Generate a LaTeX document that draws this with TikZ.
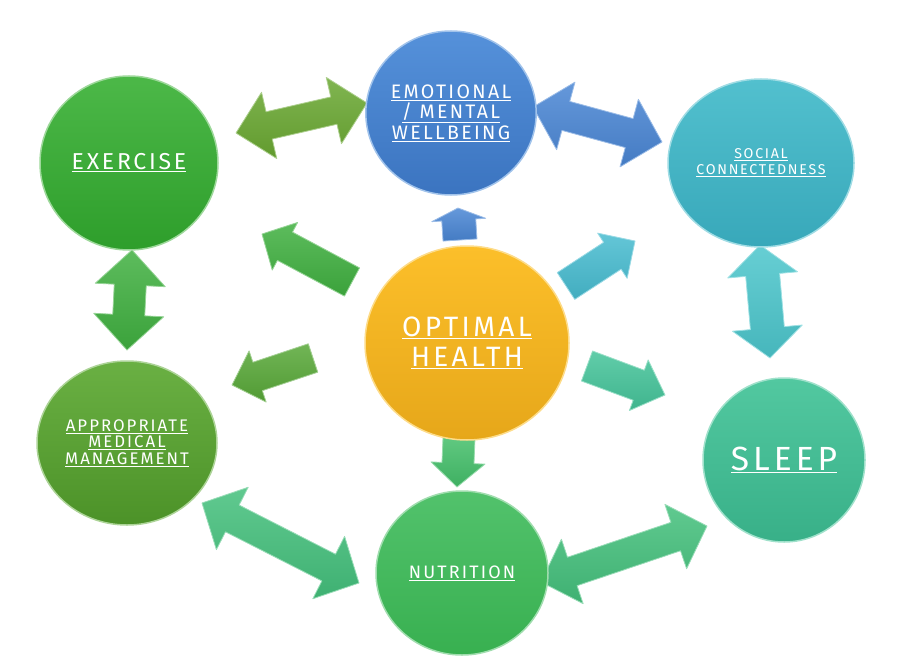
\documentclass[tikz,border=0pt]{standalone}
\usepackage{fontspec}
\setmainfont{Fira Sans}[LetterSpace=12]
\usetikzlibrary{calc,shapes.geometric}
\definecolor{exT}{HTML}{4CB848}\definecolor{exB}{HTML}{2E9E2B}
\definecolor{emT}{HTML}{5591DA}\definecolor{emB}{HTML}{3B74C0}
\definecolor{soT}{HTML}{52C0CE}\definecolor{soB}{HTML}{38A8BA}
\definecolor{opT}{HTML}{FCBF2A}\definecolor{opB}{HTML}{E6A71A}
\definecolor{apT}{HTML}{6AB043}\definecolor{apB}{HTML}{4C9228}
\definecolor{nuT}{HTML}{52C26C}\definecolor{nuB}{HTML}{38B050}
\definecolor{slT}{HTML}{52C8A0}\definecolor{slB}{HTML}{38B088}
\definecolor{aOlive}{HTML}{6AA832}
\definecolor{aBlue}{HTML}{4A86D4}
\definecolor{aGreen}{HTML}{40B040}
\definecolor{aCyan}{HTML}{4CC6CC}
\definecolor{aSea}{HTML}{44C07C}
\definecolor{aLeaf}{HTML}{58A838}
\definecolor{aSky}{HTML}{48BCD0}
\definecolor{aMint}{HTML}{45C49A}
\definecolor{aNut}{HTML}{44BF6A}
\newcommand\blockdbl[6]{%
  \path ($(#1)!#5!(#2)$) coordinate (bn1) ($(#2)!#5!(#1)$) coordinate (bn2);
  \path[blockarrow=#6] (#1) -- ($(bn1)!#4!90:(#2)$) -- ($(bn1)!#3!90:(#2)$) -- ($(bn2)!#3!-90:(#1)$) -- ($(bn2)!#4!-90:(#1)$) -- (#2) -- ($(bn2)!#4!90:(#1)$) -- ($(bn2)!#3!90:(#1)$) -- ($(bn1)!#3!-90:(#2)$) -- ($(bn1)!#4!-90:(#2)$) -- cycle;}
\newcommand\blocksgl[6]{%
  \path ($(#2)!#5!(#1)$) coordinate (bn2);
  \path[blockarrow=#6] ($(#1)!#3!90:(#2)$) -- ($(bn2)!#3!-90:(#1)$) -- ($(bn2)!#4!-90:(#1)$) -- (#2) -- ($(bn2)!#4!90:(#1)$) -- ($(bn2)!#3!90:(#1)$) -- ($(#1)!#3!-90:(#2)$) -- cycle;}
\tikzset{
  blockarrow/.style={top color=#1!85!white, bottom color=#1!92!black, draw=#1!55!white, line width=0.8pt, line join=round},
  bub/.style n args={2}{ellipse, inner sep=0pt, text=white, align=center,
     top color=#1, bottom color=#2, draw=#1!55!white, line width=1.5pt}
}
\begin{document}
\begin{tikzpicture}[x=1pt,y=-1pt]
\useasboundingbox (0,0) rectangle (909,663);
% arrow end points
\coordinate (exemA) at (236,133); \coordinate (exemB) at (367,103);
\coordinate (emsoA) at (533,107); \coordinate (emsoB) at (662,142);
\coordinate (exapA) at (132,250); \coordinate (exapB) at (127,350);
\coordinate (soslA) at (760,245); \coordinate (soslB) at (770,358);
\coordinate (apnuA) at (202,503); \coordinate (apnuB) at (359,583);
\coordinate (nuslA) at (541,582); \coordinate (nuslB) at (707,526);
\coordinate (opemA) at (460,240); \coordinate (opemB) at (458,208);
\coordinate (opexA) at (352,282); \coordinate (opexB) at (262,234);
\coordinate (opapA) at (313,358); \coordinate (opapB) at (232,385);
\coordinate (opsoA) at (566,286); \coordinate (opsoB) at (635,241);
\coordinate (opslA) at (587,366); \coordinate (opslB) at (665,395);
\coordinate (opnuA) at (459,438); \coordinate (opnuB) at (457,487);
% arrows
\blockdbl{exemA}{exemB}{14pt}{34pt}{34pt}{aOlive}
\blockdbl{emsoA}{emsoB}{15pt}{35pt}{34pt}{aBlue}
\blockdbl{exapA}{exapB}{16pt}{35pt}{35pt}{aGreen}
\blockdbl{soslA}{soslB}{17pt}{35pt}{30pt}{aCyan}
\blockdbl{apnuA}{apnuB}{15pt}{35pt}{34pt}{aSea}
\blockdbl{nuslA}{nuslB}{15pt}{34pt}{33pt}{aSea}
\blocksgl{opemA}{opemB}{17pt}{27pt}{12pt}{aBlue}
\blocksgl{opexA}{opexB}{16pt}{27pt}{26pt}{aGreen}
\blocksgl{opapA}{opapB}{15pt}{27pt}{27pt}{aLeaf}
\blocksgl{opsoA}{opsoB}{16pt}{27pt}{27pt}{aSky}
\blocksgl{opslA}{opslB}{16pt}{27pt}{28pt}{aMint}
\blocksgl{opnuA}{opnuB}{16pt}{27pt}{24pt}{aNut}
% circles
\node[bub={exT}{exB}, minimum width=178pt, minimum height=174pt,
  font=\fontsize{23}{26}\selectfont] (ex) at (129,163) {\underline{EXERCISE}};
\node[bub={emT}{emB}, minimum width=166pt, minimum height=164pt,
  font=\fontsize{19.5}{20.5}\selectfont] (em) at (451,113)
  {\underline{EMOTIONAL}\\\underline{/ MENTAL}\\\underline{WELLBEING}};
\node[bub={soT}{soB}, minimum width=186pt, minimum height=168pt,
  font=\fontsize{14.2}{16}\selectfont] (so) at (761,163)
  {\underline{SOCIAL}\\\underline{CONNECTEDNESS}};
\node[bub={opT}{opB}, minimum width=204pt, minimum height=194pt,
  font=\fontsize{28}{30}\selectfont] (op) at (467,343)
  {\underline{OPTIMAL}\\\underline{HEALTH}};
\node[bub={apT}{apB}, minimum width=180pt, minimum height=164pt,
  font=\fontsize{16.8}{16.5}\selectfont] (ap) at (127,443)
  {\underline{APPROPRIATE}\\\underline{MEDICAL}\\\underline{MANAGEMENT}};
\node[bub={nuT}{nuB}, minimum width=172pt, minimum height=164pt,
  font=\fontsize{18}{20}\selectfont] (nu) at (462,573) {\underline{NUTRITION}};
\node[bub={slT}{slB}, minimum width=162pt, minimum height=164pt,
  font=\fontsize{33.5}{38}\selectfont] (sl) at (784,460) {\underline{SLEEP}};
\end{tikzpicture}
\end{document}
